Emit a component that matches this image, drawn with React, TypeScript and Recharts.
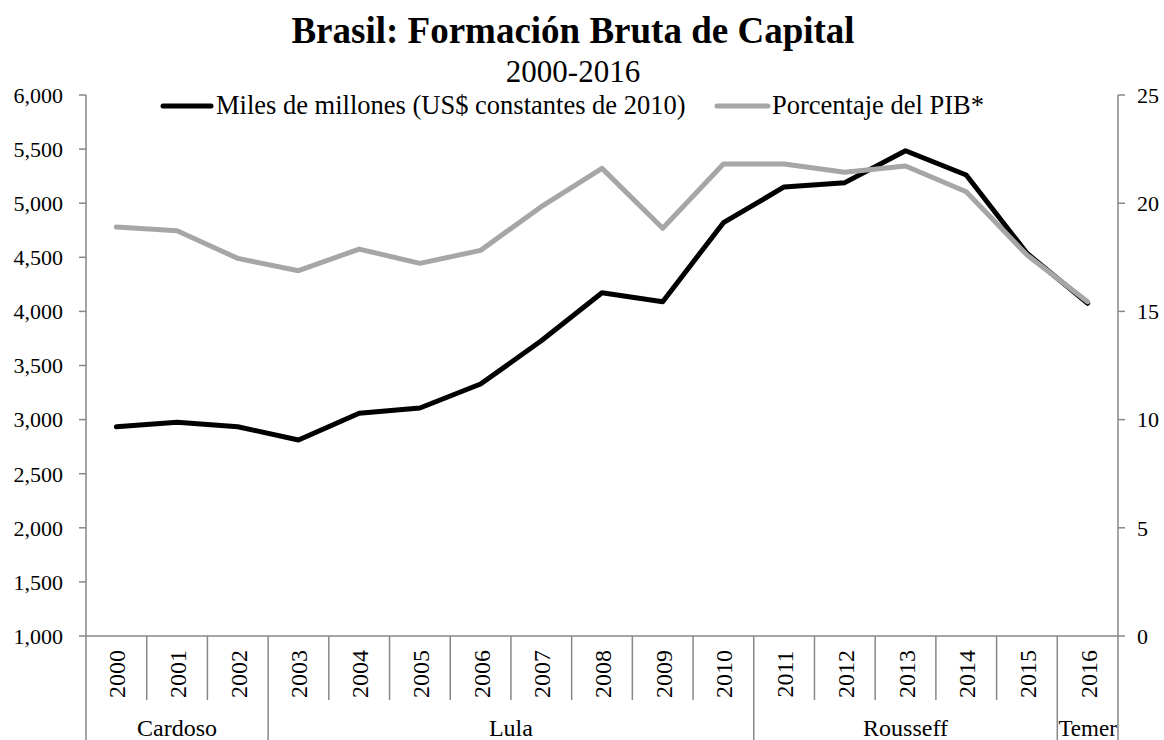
import React from "react";
import { LineChart, Line, XAxis, YAxis, Legend } from "recharts";

const years = [
  "2000", "2001", "2002", "2003", "2004", "2005", "2006", "2007", "2008",
  "2009", "2010", "2011", "2012", "2013", "2014", "2015", "2016",
];
// miles de millones, US$ constantes de 2010
const gfcfBillions = [
  2934, 2975, 2934, 2811, 3058, 3107, 3329, 3728, 4173,
  4090, 4820, 5150, 5190, 5485, 5261, 4537, 4075,
];
// porcentaje del PIB
const gfcfPctGdp = [
  18.9, 18.73, 17.45, 16.88, 17.88, 17.22, 17.82, 19.84, 21.61,
  18.84, 21.81, 21.81, 21.43, 21.72, 20.53, 17.61, 15.45,
];
const presidents = ["Cardoso", "Lula", "Rousseff", "Temer"];
const presidentSpans = [3, 8, 5, 1];
const leftTicks = [1000, 1500, 2000, 2500, 3000, 3500, 4000, 4500, 5000, 5500, 6000];
const rightTicks = [0, 5, 10, 15, 20, 25];

const data = years.map((year, i) => ({
  year,
  billions: gfcfBillions[i],
  pct: gfcfPctGdp[i],
}));

const FONT = "'Liberation Serif', 'Times New Roman', serif";
const AXIS = "#878787";
const GRAY = "#a6a6a6";
const W = 1164;
const H = 740;
const PLOT_LEFT = 86;
const PLOT_RIGHT = 1118;
const PLOT_TOP = 95;
const PLOT_BOTTOM = 636;
const STEP = (PLOT_RIGHT - PLOT_LEFT) / years.length;

const groupStarts = presidentSpans.map((_, g) =>
  presidentSpans.slice(0, g).reduce((a, b) => a + b, 0)
);

function YearTick(props: any) {
  const { x, payload, index } = props;
  const left = x - STEP / 2;
  const g = groupStarts.indexOf(index);
  const isStart = g >= 0;
  const cy = 674;
  return (
    <g>
      <line x1={left} x2={left} y1={PLOT_BOTTOM} y2={isStart ? H : 700} stroke={AXIS} strokeWidth={1.5} />
      {index === years.length - 1 && (
        <line x1={x + STEP / 2} x2={x + STEP / 2} y1={PLOT_BOTTOM} y2={H} stroke={AXIS} strokeWidth={1.5} />
      )}
      <text
        x={x + 1}
        y={cy}
        transform={`rotate(-90 ${x + 1} ${cy})`}
        textAnchor="middle"
        dominantBaseline="central"
        fontSize={24}
        fontFamily={FONT}
        fill="#000"
      >
        {payload.value}
      </text>
      {isStart && (
        <text
          x={left + (presidentSpans[g] * STEP) / 2}
          y={736}
          textAnchor="middle"
          fontSize={g === presidents.length - 1 ? 23 : 24}
          fontFamily={FONT}
          fill="#000"
        >
          {presidents[g]}
        </text>
      )}
    </g>
  );
}

function LegendContent() {
  return (
    <svg width={W} height={40} style={{ display: "block", overflow: "visible" }}>
      <line x1={163} x2={211} y1={14} y2={14} stroke="#000" strokeWidth={5} strokeLinecap="round" />
      <text x={216} y={22} fontSize={26.5} fontFamily={FONT} fill="#000">
        Miles de millones (US$ constantes de 2010)
      </text>
      <line x1={717} x2={768} y1={14} y2={14} stroke={GRAY} strokeWidth={5} strokeLinecap="round" />
      <text x={772} y={22} fontSize={26.5} fontFamily={FONT} fill="#000">
        Porcentaje del PIB*
      </text>
    </svg>
  );
}

export default function App() {
  return (
    <div style={{ position: "absolute", left: 0, top: 0, width: W, height: H, background: "#fff", fontFamily: FONT }}>
      <svg width={W} height={92} style={{ position: "absolute", left: 0, top: 0 }}>
        <text x={573} y={43} textAnchor="middle" fontSize={37} fontWeight="bold" fontFamily={FONT} fill="#000">
          Brasil: Formación Bruta de Capital
        </text>
        <text x={573} y={82} textAnchor="middle" fontSize={31} fontFamily={FONT} fill="#000">
          2000-2016
        </text>
      </svg>
      <LineChart
        width={W}
        height={H}
        data={data}
        margin={{ top: PLOT_TOP, right: 0, bottom: 0, left: 0 }}
        style={{ position: "absolute", left: 0, top: 0 }}
      >
        <XAxis
          dataKey="year"
          interval={0}
          height={H - PLOT_BOTTOM}
          padding={{ left: STEP / 2, right: STEP / 2 }}
          axisLine={{ stroke: AXIS, strokeWidth: 1.5 }}
          tickLine={false}
          tick={<YearTick />}
        />
        <YAxis
          yAxisId="left"
          width={PLOT_LEFT}
          domain={[1000, 6000]}
          ticks={leftTicks}
          interval={0}
          tickFormatter={(v: number) => v.toLocaleString("en-US")}
          axisLine={{ stroke: AXIS, strokeWidth: 1.5 }}
          tickLine={{ stroke: AXIS, strokeWidth: 1.5 }}
          tickSize={7}
          tickMargin={16}
          tick={{ fill: "#000", fontSize: 22, fontFamily: FONT }}
        />
        <YAxis
          yAxisId="right"
          orientation="right"
          width={W - PLOT_RIGHT}
          domain={[0, 25]}
          ticks={rightTicks}
          interval={0}
          axisLine={{ stroke: AXIS, strokeWidth: 1.5 }}
          tickLine={{ stroke: AXIS, strokeWidth: 1.5 }}
          tickSize={7}
          tickMargin={12}
          tick={{ fill: "#000", fontSize: 22, fontFamily: FONT }}
        />
        <Legend
          verticalAlign="middle"
          align="center"
          content={<LegendContent />}
          wrapperStyle={{ position: "absolute", top: 92, left: 0, width: W }}
        />
        <Line
          yAxisId="left"
          dataKey="billions"
          stroke="#000"
          strokeWidth={5}
          dot={false}
          strokeLinecap="round"
          strokeLinejoin="round"
          isAnimationActive={false}
        />
        <Line
          yAxisId="right"
          dataKey="pct"
          stroke={GRAY}
          strokeWidth={5}
          dot={false}
          strokeLinecap="round"
          strokeLinejoin="round"
          isAnimationActive={false}
        />
      </LineChart>
    </div>
  );
}
